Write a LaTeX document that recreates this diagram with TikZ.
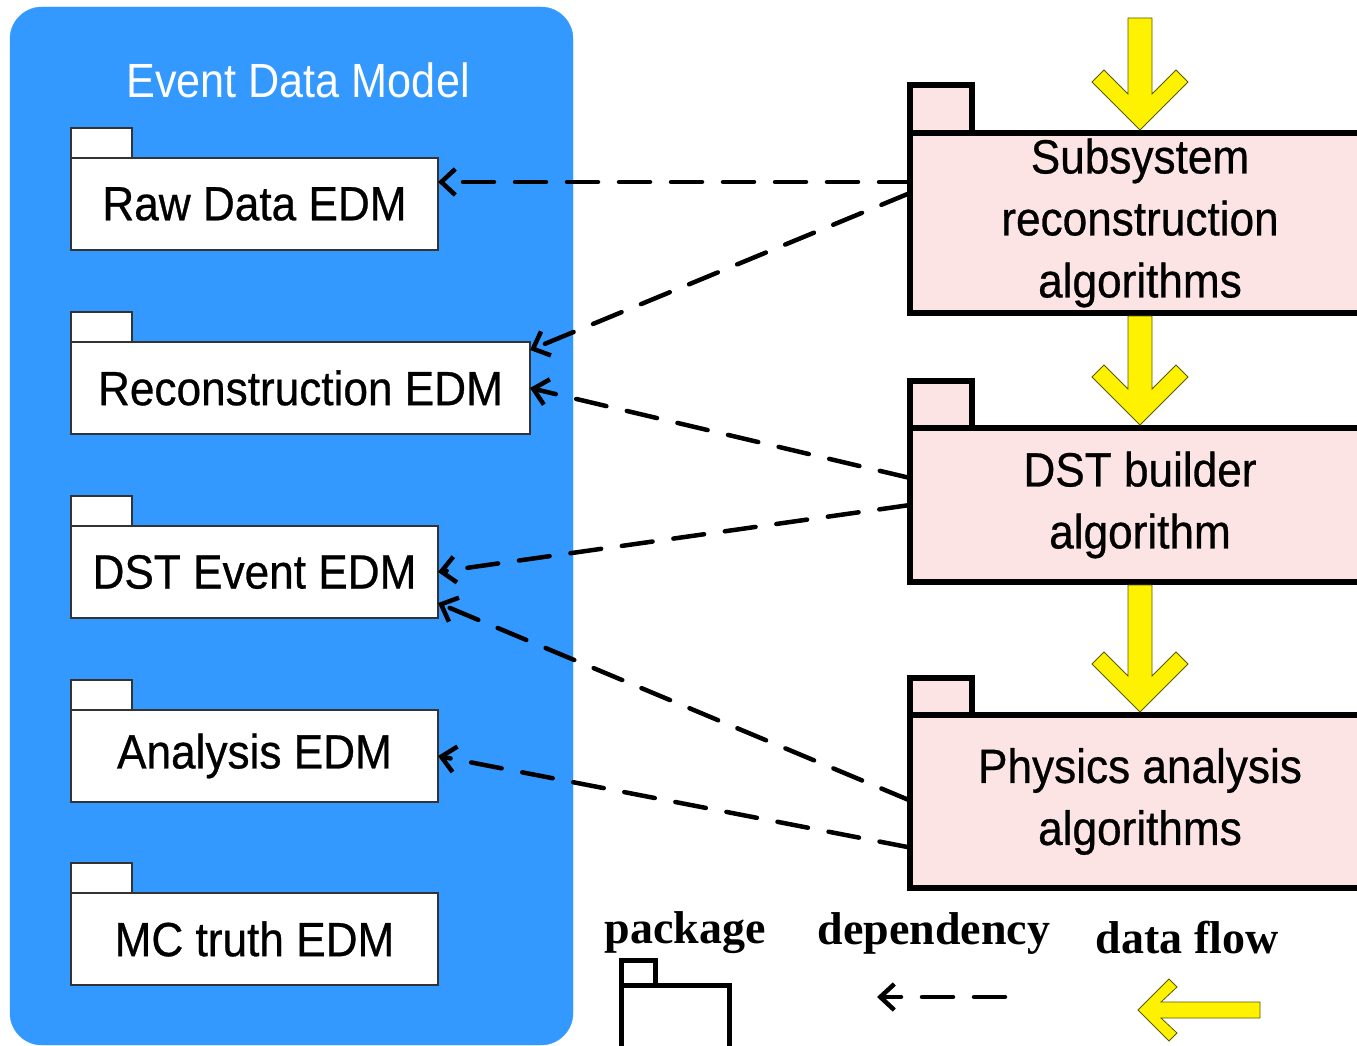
\documentclass[tikz,border=0pt]{standalone}
\usepackage{fontspec}
\setmainfont{Liberation Sans}[FakeStretch=0.9]
\newfontfamily\edmfont{Liberation Sans}[FakeStretch=0.92, FakeBold=0.6]
\newfontfamily\legendfont{Liberation Serif}
\usetikzlibrary{arrows.meta}
\definecolor{edmblue}{RGB}{51,153,255}
\definecolor{algpink}{RGB}{253,228,228}
\definecolor{flowedge}{RGB}{90,90,0}

\tikzset{
  edm/.style={draw=black!80, line width=1.3pt, fill=white, minimum height=92pt, anchor=north west, inner sep=0pt, outer sep=0pt, font=\edmfont\fontsize{48}{48}\selectfont},
  edmtab/.style={draw=black!80, line width=1.3pt, fill=white},
  alg/.style={draw=black, line width=6pt, fill=algpink, minimum width=460pt, anchor=north west, align=center, inner sep=0pt, outer sep=0pt, font=\edmfont\fontsize{48}{62}\selectfont},
  algtab/.style={draw=black, line width=6pt, fill=algpink},
  dep/.style={-{Straight Barb[length=14pt,width=26pt]}, line width=4.5pt, dash pattern=on 31pt off 21pt, line cap=round},
  flow/.style={fill=yellow, draw=flowedge, line width=0.8pt},
  legend/.style={font=\legendfont\bfseries\fontsize{46}{46}\selectfont}
}

\begin{document}
\begin{tikzpicture}[x=1pt, y=-1pt]
                \useasboundingbox (0,0) rectangle (1357,1046);
                \clip (0,0) rectangle (1357,1046);

                % event data model
                \filldraw [fill=edmblue, draw=edmblue, rounded corners=32pt] (10,7) rectangle (573,1045);
                \node[text=white, font=\fontsize{48}{48}\selectfont] (edmtitle) at (298,80) {Event Data Model};

                \node[edm, minimum width=367pt] (raw) at (71,158) {Raw Data EDM};
                \draw[edmtab] (raw.north west) rectangle ++(61,-30);
                \node[edm, minimum width=459pt] (reco) at (71,342) {Reconstruction EDM};
                \draw[edmtab] (reco.north west) rectangle ++(61,-30);
                \node[edm, minimum width=367pt] (dstevt) at (71,526) {DST Event EDM};
                \draw[edmtab] (dstevt.north west) rectangle ++(61,-30);
                \node[edm, minimum width=367pt] (ana) at (71,710) {Analysis EDM};
                \draw[edmtab] (ana.north west) rectangle ++(61,-30);
                \node[edm, minimum width=367pt] (mctruth) at (71,893) {MC truth EDM};
                \draw[edmtab] (mctruth.north west) rectangle ++(61,-30);

                % algorithms
                \node[alg, minimum height=180pt] (subsys) at (910,133) {Subsystem\\reconstruction\\algorithms};
                \draw[algtab] (subsys.north west) rectangle ++(62,-48);
                \node[alg, minimum height=154pt] (dstb) at (910,428) {DST builder\\algorithm};
                \draw[algtab] (dstb.north west) rectangle ++(62,-47);
                \node[alg, minimum height=173pt] (phys) at (910,715) {Physics analysis\\algorithms};
                \draw[algtab] (phys.north west) rectangle ++(62,-37);

                % data flow
                \coordinate (flowin) at (1140,18);
                \filldraw[flow] ([yshift=3pt]subsys.north) -- ++(-48,-48) -- ++(12,-12) -- ++(24,24) -- ([xshift=-12pt]flowin) -- ([xshift=12pt]flowin) -- ([shift={(12,-39)}]subsys.north) -- ++(24,-24) -- ++(12,12) -- cycle;
                \filldraw[flow] ([yshift=3pt]dstb.north) -- ++(-48,-48) -- ++(12,-12) -- ++(24,24) -- ([shift={(-12,3)}]subsys.south) -- ([shift={(12,3)}]subsys.south) -- ([shift={(12,-39)}]dstb.north) -- ++(24,-24) -- ++(12,12) -- cycle;
                \filldraw[flow] ([yshift=3pt]phys.north) -- ++(-48,-48) -- ++(12,-12) -- ++(24,24) -- ([shift={(-12,3)}]dstb.south) -- ([shift={(12,3)}]dstb.south) -- ([shift={(12,-39)}]phys.north) -- ++(24,-24) -- ++(12,12) -- cycle;

                % dependencies
                \draw[dep] ([yshift=41pt]subsys.west) -- ([yshift=22pt]raw.east);
                \draw[dep] ([yshift=30pt]subsys.west) -- ([yshift=-8pt]reco.north east);
                \draw[dep] ([yshift=27pt]dstb.west) -- (reco.east);
                \draw[dep] (dstb.west) -- (dstevt.east);
                \draw[dep] ([yshift=1pt]phys.west) -- ([yshift=-31pt]dstevt.east);
                \draw[dep] ([yshift=-46pt]phys.west) -- (ana.east);

                % legend
                \node[legend] (pkglabel) at (685,933) {package};
                \node[legend] (deplabel) at (934,933) {dependency};
                \node[legend] (flowlabel) at (1187,938) {data flow};
                \filldraw [line width=5pt, fill=white] (621,985) rectangle (729,1070);
                \filldraw [line width=5pt, fill=white] (621,960) rectangle (655,985);
                \coordinate (depfrom) at (1005,997);
                \coordinate (depto) at (877,997);
                \draw[dep] (depfrom) -- (depto);
                \coordinate (flowtip) at (1138,1010);
                \filldraw[flow] (flowtip) -- ++(31,-31) -- ++(8,8) -- ++(-16,15) -- (1260,1002) -- (1260,1018) -- ([shift={(23,8)}]flowtip) -- ++(16,15) -- ++(-8,8) -- cycle;
            \end{tikzpicture}
\end{document}
